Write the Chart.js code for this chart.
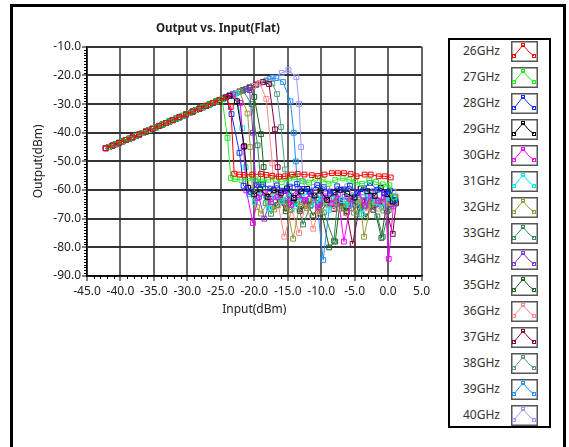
<!DOCTYPE html>
<html>
<head>
<meta charset="utf-8">
<script src="https://cdn.jsdelivr.net/npm/chart.js@4.4.0/dist/chart.umd.min.js"></script>
<style>
  body { margin: 0; width: 569px; height: 447px; overflow: hidden; background: #fff; font-family: "Noto Sans", sans-serif; }
  #frame { position: absolute; left: 10px; top: 4px; width: 550px; height: 460px; border: 3px solid #000; }
  #chartBox { position: absolute; left: 13px; top: 7px; width: 420px; height: 318px; }
  #legend { position: absolute; left: 448px; top: 38px; width: 99px; height: 386px; border: 2px solid #000; overflow: hidden; background: #fff; }
  .item { position: absolute; left: 0; width: 99px; height: 26px; }
  .item span { position: absolute; left: 13px; top: 4px; font-size: 12px; line-height: 14px; color: #333; }
  .item svg { position: absolute; left: 61px; top: 1px; }
</style>
</head>
<body>
<div id="frame"></div>
<div id="chartBox"><canvas id="chart" width="420" height="318"></canvas></div>
<div id="legend"></div>
<script>
// Frequenzen und Farben
const freqs = ['26GHz', '27GHz', '28GHz', '29GHz', '30GHz', '31GHz', '32GHz', '33GHz',
  '34GHz', '35GHz', '36GHz', '37GHz', '38GHz', '39GHz', '40GHz'];
const seriesColors = ['#ff0000', '#22ee22', '#1030ff', '#000000', '#ff00ff', '#00eeee', '#999933', '#2e8b57',
  '#8a2be2', '#1f5f1f', '#ff8888', '#800040', '#5a9a8a', '#1e90ff', '#9a9aff'];

// gemeinsamer linearer Bereich (zwei versetzte Sweeps)
const linInA = [-42.2, -41.2, -40.2, -39.2, -38.2, -37.2, -36.2, -35.2, -34.2, -33.2, -32.2, -31.2, -30.2, -29.2,
  -28.2, -27.2, -26.2, -25.2, -24.2, -23.2, -22.2, -21.2, -20.2, -19.2, -18.2, -17.2, -16.2, -15.2];
const linOutA = [-45.4, -44.5, -43.5, -42.5, -41.6, -40.6, -39.6, -38.6, -37.6, -36.6, -35.6, -34.6, -33.6, -32.6,
  -31.6, -30.6, -29.6, -28.6, -27.6, -26.6, -25.6, -24.7, -23.7, -22.7, -21.8, -20.8, -19.9, -19.0];
const linInB = [-41.7, -40.7, -39.7, -38.7, -37.7, -36.7, -35.7, -34.7, -33.7, -32.7, -31.7, -30.7, -29.7, -28.7,
  -27.7, -26.7, -25.7, -24.7, -23.7, -22.7, -21.7, -20.7, -19.7, -18.7, -17.7, -16.7, -15.7];
const linOutB = [-45.0, -44.0, -43.0, -42.1, -41.1, -40.1, -39.1, -38.1, -37.1, -36.1, -35.1, -34.1, -33.1, -32.1,
  -31.1, -30.1, -29.1, -28.1, -27.1, -26.1, -25.2, -24.2, -23.2, -22.3, -21.3, -20.4, -19.5];

// welcher Sweep und wie viele lineare Punkte pro Serie
const linSweep = ['A', 'B', 'A', 'B', 'A', 'B', 'A', 'B', 'A', 'B', 'A', 'B', 'A', 'B', 'A'];
const linCount = [19, 17, 19, 19, 20, 20, 21, 21, 22, 22, 24, 24, 25, 25, 26];

// Kompression / Abfall / Rauschboden je Serie
const in26 = [-23.5, -23.0, -22.2, -21.5, -20.3, -19.0, -18.2, -17.3, -16.3, -15.4, -14.4, -13.5, -12.5, -11.4, -10.5, -9.5, -8.4, -7.5, -6.6, -5.6, -4.7, -3.5, -2.6, -1.4, -0.5, 0.4];
const out26 = [-31.0, -54.3, -54.6, -54.7, -54.6, -54.4, -54.7, -55.0, -55.3, -55.2, -54.6, -54.4, -54.6, -54.8, -55.1, -54.6, -54.1, -54.1, -54.1, -54.4, -55.2, -54.6, -54.6, -55.2, -55.2, -55.6];
const in27 = [-24.8, -24.0, -23.5, -22.9, -21.9, -20.9, -19.8, -18.9, -17.9, -16.8, -15.9, -14.8, -13.9, -12.9, -11.8, -10.9, -9.8, -8.9, -7.9, -6.8, -5.8, -4.9, -3.9, -2.8, -1.8, -0.8, 0.2, 0.9];
const out27 = [-28.3, -41.8, -55.8, -56.2, -56.5, -55.9, -56.3, -57.0, -56.4, -56.1, -57.2, -56.0, -55.6, -56.8, -57.4, -56.0, -56.3, -57.8, -56.5, -55.9, -56.4, -57.1, -57.9, -56.6, -57.2, -58.0, -58.3, -62.5];
const in28 = [-23.4, -22.2, -21.6, -20.6, -19.6, -18.7, -17.6, -16.6, -15.6, -14.7, -13.6, -12.6, -11.7, -10.6, -9.6, -8.7, -7.6, -6.6, -5.7, -4.6, -3.6, -2.7, -1.6, -0.6, 0.3, 1.0];
const out28 = [-33.5, -47.0, -58.5, -60.6, -58.2, -58.0, -59.5, -58.4, -60.2, -58.8, -57.9, -59.6, -60.5, -58.3, -59.0, -61.2, -58.7, -59.8, -58.5, -60.9, -59.4, -57.5, -59.9, -61.0, -60.2, -63.5];
const in29 = [-22.6, -21.5, -20.9, -20.0, -19.1, -18.0, -17.1, -16.0, -15.1, -14.1, -13.0, -12.1, -11.0, -10.1, -9.1, -8.0, -7.1, -6.1, -5.0, -4.1, -3.1, -2.0, -1.1, -0.1, 0.7];
const out29 = [-29.0, -44.7, -59.2, -61.5, -59.8, -62.4, -60.1, -61.0, -59.4, -62.8, -60.5, -59.6, -61.9, -60.2, -63.4, -60.8, -59.9, -61.3, -62.6, -59.6, -60.4, -62.0, -59.3, -61.4, -64.0];
const in30 = [-22.1, -21.6, -21.2, -20.2, -19.5, -18.4, -17.5, -16.5, -15.4, -14.5, -13.5, -12.4, -11.5, -10.5, -9.4, -8.5, -7.5, -6.6, -5.5, -4.5, -3.4, -2.5, -1.5, -0.5, 0.1, 0.8];
const out30 = [-29.6, -45.0, -60.1, -71.5, -62.8, -61.0, -64.2, -62.5, -60.3, -65.1, -61.8, -63.4, -60.7, -66.0, -62.2, -64.6, -61.5, -78.0, -63.3, -60.9, -65.4, -62.1, -63.8, -61.2, -84.0, -65.5];
const in31 = [-21.8, -21.3, -20.8, -19.9, -18.9, -17.8, -16.9, -15.9, -14.8, -13.9, -12.9, -11.8, -10.9, -9.9, -8.8, -7.9, -6.9, -5.8, -4.9, -3.9, -2.8, -1.9, -0.9, 0.1, 0.9];
const out31 = [-38.4, -52.0, -61.4, -64.2, -60.8, -66.5, -62.3, -63.9, -61.1, -65.7, -62.6, -60.4, -64.8, -63.0, -66.9, -61.7, -63.5, -65.2, -62.0, -68.4, -61.6, -64.3, -66.1, -62.7, -63.8];
const in32 = [-21.0, -20.6, -20.3, -19.6, -19.0, -18.0, -17.0, -16.0, -15.1, -14.2, -13.1, -12.1, -11.1, -10.2, -9.1, -8.1, -7.2, -6.2, -5.1, -4.2, -3.6, -2.6, -1.7, -0.7, 0.2, 1.1];
const out32 = [-33.3, -45.0, -60.0, -66.0, -68.2, -64.5, -66.8, -63.9, -65.7, -77.0, -64.2, -66.3, -63.6, -67.5, -65.0, -63.1, -66.6, -64.8, -67.9, -63.4, -76.3, -65.1, -63.8, -67.2, -64.4, -62.6];
const in33 = [-20.4, -19.5, -19.0, -18.3, -17.5, -16.6, -15.6, -14.6, -13.6, -12.7, -11.6, -10.6, -9.6, -8.1, -7.6, -6.6, -5.6, -4.6, -3.6, -2.6, -1.6, -0.8, 0.1, 1.0];
const out33 = [-30.0, -44.4, -58.0, -64.6, -68.3, -65.2, -63.7, -66.9, -64.1, -72.0, -65.5, -63.4, -67.8, -77.7, -64.9, -66.3, -63.8, -68.5, -65.6, -64.0, -69.2, -76.3, -67.0, -64.8];
const in34 = [-20.7, -20.2, -19.8, -19.3, -18.5, -17.5, -16.4, -15.5, -14.5, -13.5, -12.6, -11.5, -10.5, -9.5, -8.6, -7.5, -6.5, -5.5, -4.6, -3.5, -2.5, -1.5, -0.6, 0.4, 1.1];
const out34 = [-25.1, -40.0, -57.0, -62.4, -70.0, -63.1, -60.8, -64.5, -62.0, -59.7, -63.6, -61.4, -65.2, -62.8, -60.5, -64.0, -62.3, -66.4, -61.2, -63.8, -60.9, -65.0, -62.6, -64.9, -62.3];
const in35 = [-20.0, -19.0, -18.6, -18.2, -17.2, -16.2, -15.3, -14.2, -13.2, -12.3, -11.2, -10.2, -8.8, -7.9, -7.2, -6.2, -5.3, -4.2, -3.3, -2.2, -1.0, -0.3, 0.6];
const out35 = [-27.5, -40.5, -52.0, -62.0, -65.8, -63.3, -67.4, -64.2, -66.7, -63.6, -68.9, -65.0, -80.0, -78.0, -64.7, -67.3, -63.9, -66.2, -69.5, -64.6, -76.7, -66.0, -63.4];
const in36 = [-18.2, -17.3, -17.0, -16.4, -15.5, -14.4, -13.3, -12.3, -11.2, -10.4, -9.4, -8.3, -7.4, -6.3, -5.4, -4.4, -3.3, -2.4, -1.4, -0.4, 0.5];
const out36 = [-28.2, -50.7, -62.0, -65.4, -76.3, -66.8, -75.0, -64.5, -73.5, -67.2, -63.9, -66.3, -64.6, -68.1, -65.3, -63.6, -67.4, -64.8, -66.5, -63.8, -65.9];
const in37 = [-17.8, -16.9, -16.5, -16.1, -15.2, -14.1, -13.2, -12.2, -11.1, -10.2, -9.2, -8.1, -7.2, -6.2, -5.3, -4.2, -3.2, -2.2, -1.1, -0.2, 0.7, 1.2];
const out37 = [-23.0, -38.8, -52.0, -63.0, -66.4, -64.1, -67.3, -65.0, -63.5, -68.2, -64.7, -66.6, -63.8, -67.9, -78.8, -65.2, -63.6, -66.9, -64.3, -67.5, -75.3, -64.6];
const in38 = [-17.3, -16.6, -16.0, -15.4, -15.0, -14.2, -13.3, -12.3, -11.3, -10.3, -9.3, -8.3, -7.3, -6.3, -5.3, -4.3, -3.3, -2.3, -1.3, -0.3, 0.7];
const out38 = [-22.8, -26.5, -38.0, -52.8, -63.0, -64.8, -62.4, -65.6, -63.1, -66.2, -62.7, -64.9, -63.4, -65.8, -62.5, -64.2, -66.0, -63.0, -64.7, -62.9, -64.1];
const in39 = [-16.7, -15.7, -14.6, -14.1, -13.8, -13.4, -12.6, -11.6, -10.7, -9.7, -8.7, -7.7, -6.7, -5.7, -4.7, -3.7, -2.7, -1.7, -0.7, 0.3, 1.2];
const out39 = [-20.9, -22.3, -29.0, -40.0, -50.0, -62.0, -63.5, -65.2, -63.0, -84.4, -64.4, -62.8, -65.5, -63.7, -64.9, -62.5, -65.8, -63.4, -64.6, -63.1, -64.0];
const in40 = [-15.9, -14.9, -13.7, -13.3, -13.0, -12.7, -12.1, -11.1, -10.1, -9.1, -8.2, -7.1, -6.1, -5.2, -4.1, -3.1, -2.2, -1.1, -0.2, 0.8];
const out40 = [-19.1, -18.1, -20.6, -30.0, -45.0, -57.0, -60.8, -58.9, -61.5, -59.6, -62.2, -60.1, -58.7, -61.8, -59.4, -62.6, -60.3, -59.0, -61.7, -60.5];

const tailIn = [in26, in27, in28, in29, in30, in31, in32, in33, in34, in35, in36, in37, in38, in39, in40];
const tailOut = [out26, out27, out28, out29, out30, out31, out32, out33, out34, out35, out36, out37, out38, out39, out40];

const xTicks = [-45, -40, -35, -30, -25, -20, -15, -10, -5, 0, 5];
const yTicks = [-90, -80, -70, -60, -50, -40, -30, -20, -10];

function buildPoints(i) {
  const inp = linSweep[i] === 'A' ? linInA : linInB;
  const out = linSweep[i] === 'A' ? linOutA : linOutB;
  const pts = [];
  for (let k = 0; k < linCount[i]; k++) pts.push({ x: inp[k], y: out[k] });
  const n = Math.min(tailIn[i].length, tailOut[i].length);
  for (let k = 0; k < n; k++) pts.push({ x: tailIn[i][k], y: tailOut[i][k] });
  return pts;
}

const datasets = freqs.map((f, i) => ({
  label: f,
  data: buildPoints(i),
  borderColor: seriesColors[i],
  backgroundColor: 'rgba(0,0,0,0)',
  borderWidth: 1,
  pointStyle: 'rect',
  pointRadius: 3.4,
  pointBorderWidth: 1,
  pointHoverRadius: 3.4,
  tension: 0,
  fill: false
}));

// kleine Zwischenstriche an den Achsen
const minorTicks = {
  id: 'minorTicks',
  afterDraw(chart) {
    const { ctx, scales: { x, y } } = chart;
    ctx.save();
    ctx.strokeStyle = '#000';
    ctx.lineWidth = 1;
    ctx.beginPath();
    for (let v = -45; v <= 5; v++) {
      if (v % 5 === 0) continue;
      const px = Math.round(x.getPixelForValue(v)) + 0.5;
      ctx.moveTo(px, y.bottom);
      ctx.lineTo(px, y.bottom + 3);
    }
    for (let v = -90; v <= -10; v++) {
      if (v % 10 === 0) continue;
      const py = Math.round(y.getPixelForValue(v)) + 0.5;
      ctx.moveTo(x.left, py);
      ctx.lineTo(x.left - 3, py);
    }
    ctx.stroke();
    ctx.restore();
  }
};

const tickFont = { family: 'Noto Sans', size: 12 };

const ctx = document.getElementById('chart').getContext('2d');
const myChart = new Chart(ctx, {
  type: 'line',
  data: { datasets },
  options: {
    responsive: false,
    animation: false,
    layout: { padding: { right: 10, left: 0, top: 0, bottom: 0 } },
    plugins: {
      legend: { display: false },
      tooltip: { enabled: false },
      title: {
        display: true,
        text: 'Output vs. Input(Flat)',
        color: '#222',
        font: { family: 'Noto Sans', size: 11.5, weight: 'bold' },
        padding: { top: 15, bottom: 11 }
      }
    },
    scales: {
      x: {
        type: 'linear',
        min: -45,
        max: 5,
        afterBuildTicks: s => { s.ticks = xTicks.map(v => ({ value: v })); },
        afterFit: s => { s.height = 49; },
        ticks: { callback: v => v.toFixed(1), font: tickFont, color: '#222', padding: 3, maxRotation: 0, autoSkip: false },
        grid: { color: '#666', lineWidth: 2, tickLength: 5, tickColor: '#000', tickWidth: 1 },
        border: { color: '#000', width: 1.5 },
        title: { display: true, text: 'Input(dBm)', font: tickFont, color: '#222', padding: { top: 0, bottom: 8 } }
      },
      y: {
        type: 'linear',
        min: -90,
        max: -10,
        afterBuildTicks: s => { s.ticks = yTicks.map(v => ({ value: v })); },
        afterFit: s => { s.width = 74; },
        ticks: { callback: v => v.toFixed(1), font: tickFont, color: '#222', padding: 1, autoSkip: false },
        grid: { color: '#333', lineWidth: 2, tickLength: 5, tickColor: '#000', tickWidth: 1 },
        border: { color: '#000', width: 1.5 },
        title: { display: true, text: 'Output(dBm)', font: tickFont, color: '#222', padding: { top: 18, bottom: 0 } }
      }
    }
  },
  plugins: [minorTicks]
});

// Legende als HTML mit kleinen Symbolen
const legendEl = document.getElementById('legend');
freqs.forEach((f, i) => {
  const item = document.createElement('div');
  item.className = 'item';
  item.style.top = (i * 26) + 'px';
  const c = seriesColors[i];
  item.innerHTML = '<span>' + f + '</span>' +
    '<svg width="27" height="21" viewBox="0 0 27 21">' +
    '<rect x="0.75" y="0.75" width="25.5" height="19.5" fill="#fff" stroke="#555" stroke-width="1.5"/>' +
    '<polyline points="3,15 12,4 18,11 23,15" fill="none" stroke="' + c + '" stroke-width="1"/>' +
    '<rect x="1.5" y="13.5" width="3" height="3" fill="none" stroke="' + c + '" stroke-width="1"/>' +
    '<rect x="10.5" y="2.5" width="3" height="3" fill="none" stroke="' + c + '" stroke-width="1"/>' +
    '<rect x="21.5" y="13.5" width="3" height="3" fill="none" stroke="' + c + '" stroke-width="1"/>' +
    '</svg>';
  legendEl.appendChild(item);
});
</script>
</body>
</html>
